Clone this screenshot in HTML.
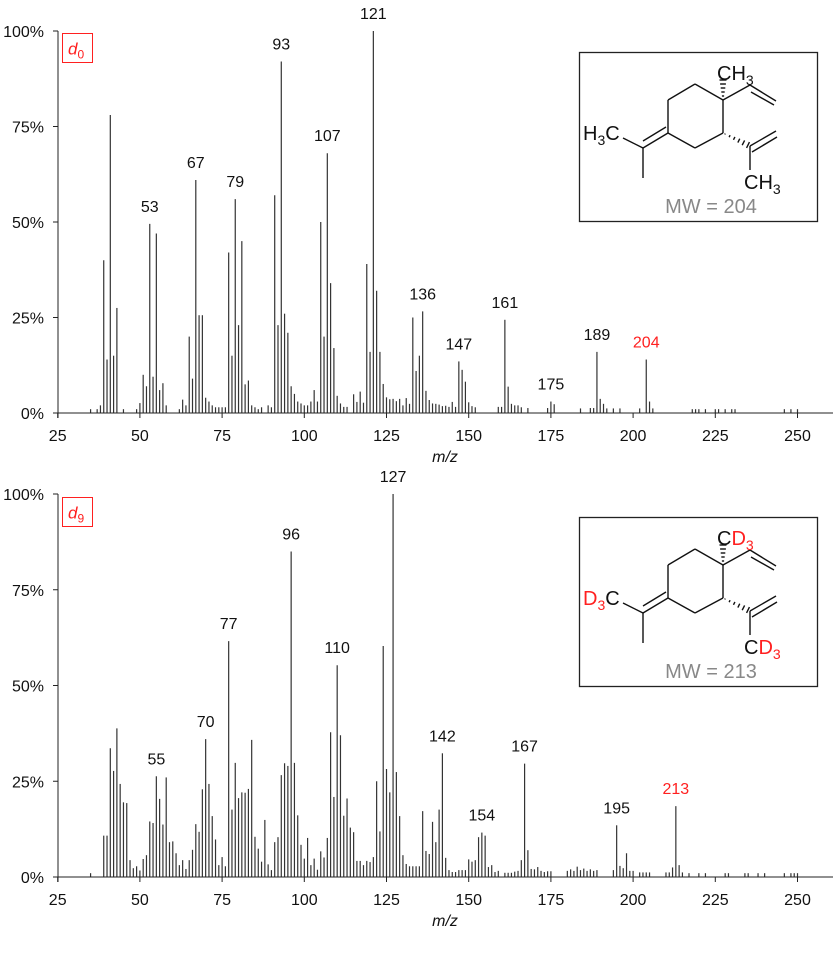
<!DOCTYPE html>
<html><head><meta charset="utf-8"><style>
html,body{margin:0;padding:0;background:#fff;}
svg{display:block;font-family:"Liberation Sans",Arial,sans-serif;}
</style></head><body>
<svg id="chart" width="834" height="956" viewBox="0 0 834 956" xmlns="http://www.w3.org/2000/svg">
</svg>
<script>
const topMz = [35,37,38,39,40,41,42,43,45,49,50,51,52,53,54,55,56,57,58,62,63,64,65,66,67,68,69,70,71,72,73,74,75,76,77,78,79,80,81,82,83,84,85,86,87,89,90,91,92,93,94,95,96,97,98,99,100,101,102,103,104,105,106,107,108,109,110,111,112,113,115,116,117,118,119,120,121,122,123,124,125,126,127,128,129,130,131,132,133,134,135,136,137,138,139,140,141,142,143,144,145,146,147,148,149,150,151,152,159,160,161,162,163,164,165,166,168,174,175,176,184,187,188,189,190,191,192,194,196,202,204,205,206,218,219,220,222,225,226,228,230,231,246,248,250];
const topInt = [1,1,2,40,14,78,15,27.5,1,1,2.6,10,7,49.5,9.5,47,6,7.8,2,1,3.5,2,20,9,61,25.6,25.6,4,3,2,1.5,1.5,1.5,1.5,42,15,56,23,45,7.5,8.5,2,1.5,1,1.5,2,1.5,57,23,92,26,21,7,5,3,2.5,2,2,3,6,3,50,20,68,34,17,4.5,2.5,1.6,1.6,4.9,2.9,5.6,2.7,39,16,100,32,16,7.6,4.1,3.6,3.7,3.1,3.7,2,3.9,2.4,25,11,15,26.6,5.8,3.4,2.5,2.4,2.2,1.8,1.9,1.6,2.9,1.6,13.5,11.3,8.2,2.8,1.8,1.5,1.6,1.6,24.4,6.9,2.4,2,2,1.5,1.3,1.3,3,2.3,1.2,1.3,1.3,16,3.7,2.4,1.2,1.2,1.2,1.2,14,3,1.2,1,1,1,1,1,1,1,1,1,1,1,1];
const topLabels = [53,67,79,93,107,121,136,147,161,175,189,204];

const botMz = [35,39,40,41,42,43,44,45,46,47,48,49,50,51,52,53,54,55,56,57,58,59,60,61,62,63,64,65,66,67,68,69,70,71,72,73,74,75,76,77,78,79,80,81,82,83,84,85,86,87,88,89,90,91,92,93,94,95,96,97,98,99,100,101,102,103,104,105,106,107,108,109,110,111,112,113,114,115,116,117,118,119,120,121,122,123,124,125,126,127,128,129,130,131,132,133,134,135,136,137,138,139,140,141,142,143,144,145,146,147,148,149,150,151,152,153,154,155,156,157,158,159,161,162,163,164,165,166,167,168,169,170,171,172,173,174,175,180,181,182,183,184,185,186,187,188,189,194,195,196,197,198,199,200,202,203,204,205,210,211,212,213,214,215,217,220,222,228,229,234,235,238,240,246,248,249,250];
const botInt = [1,10.8,10.8,33.6,27.7,38.8,24.3,19.5,19.3,4.4,2.3,2.8,1.7,4.7,5.7,14.5,14.1,26.3,20.4,13.7,26,9.1,9.3,6.2,3.1,4.4,2.1,4.4,7.1,13.8,11.8,22.9,36,24.3,15.9,9.8,3.1,5.2,2.8,61.6,17.6,29.8,20.6,22.1,22,23,35.8,10.5,7.4,4,14.9,3.3,1.8,9.1,10.4,26.6,29.7,29,85,29.8,16.1,8.4,4.8,10.2,3.1,4.8,1.9,6.7,5.1,10.2,37.8,20.9,55.3,37,16,20.5,12.9,11.7,4.2,4.2,3.1,4.2,3.9,5.2,25,11.9,60.3,28.2,22.1,100,27.4,15.9,5.7,3.4,2.8,2.8,2.8,2.8,17.2,6.8,6,14.4,9.1,17.6,32.3,5,1.8,1.3,1.3,1.8,1.8,1.8,4.6,4,4.4,10.4,11.6,10.8,2.6,3.1,1.3,1.6,1.1,1.1,1.1,1.4,1.6,4.4,29.6,7,2.1,2,2.6,1.6,1.3,1.5,1.5,1.6,2,1.6,2.7,1.8,2.2,1.6,2,1.6,1.8,1.8,13.5,2.9,2.3,6.2,1.6,1.6,1.2,1.2,1.2,1.2,1.2,1.2,2.5,18.5,3.1,1.2,1,1,1,1,1,1,1,1,1,1,1,1,1];
const botLabels = [55,70,77,96,110,127,142,154,167,195,213];

const xTicks = [25,50,75,100,125,150,175,200,225,250];
const yTicks = [0,25,50,75,100];

const NS = "http://www.w3.org/2000/svg";
const svg = document.getElementById('chart');
function mk(tag, attrs, parent){const e=document.createElementNS(NS,tag);for(const k in attrs)e.setAttribute(k,attrs[k]);(parent||svg).appendChild(e);return e;}
function xS(m){return 57.7+(m-25)*3.288;}

function panel(y0, y100, mzs, ints, labels, redMz, nm){
  const g = mk('g',{});
  
  
  const yS = v => y0 - (y0-y100) * v/100;
  const n = Math.min(mzs.length, ints.length);
  for(let i=0;i<n;i++){
    const b = mk('line',{x1:xS(mzs[i]),x2:xS(mzs[i]),y1:y0,y2:yS(ints[i]),stroke:'#333','stroke-width':1.2},g);
    
    
  }
  const ax = mk('line',{x1:58,x2:833,y1:y0,y2:y0,stroke:'#222','stroke-width':1},g);
  
  
  const ay = mk('line',{x1:58,x2:58,y1:y0+5,y2:y100,stroke:'#222','stroke-width':1},g);
  
  
  for(const t of xTicks){
    mk('line',{x1:xS(t),x2:xS(t),y1:y0,y2:y0+5,stroke:'#222'},g);
    const tx = mk('text',{x:xS(t),y:y0+28,'text-anchor':'middle','font-size':16,fill:'#111'},g);
    tx.textContent = t;
    
    
  }
  for(const t of yTicks){
    const yy = yS(t);
    mk('line',{x1:53,x2:58,y1:yy,y2:yy,stroke:'#222'},g);
    const tx = mk('text',{x:44,y:yy+6,'text-anchor':'end','font-size':16,fill:'#111'},g);
    tx.textContent = t+'%';
    
    
  }
  for(const L of labels){
    const idx = mzs.indexOf(L);
    const v = idx>=0 ? ints[idx] : 0;
    const tx = mk('text',{x:xS(L),y:Math.max(yS(v)-12, y100-17),'text-anchor':'middle','font-size':16,fill:L===redMz?'#ff2020':'#111'},g);
    tx.textContent = L;
    
    
  }
  const at = mk('text',{x:445,y:y0+49,'text-anchor':'middle','font-size':16,'font-style':'italic',fill:'#111'},g);
  at.textContent = 'm/z';
  
  
}
panel(413, 31, topMz, topInt, topLabels, 204, 'd0');
panel(877, 494, botMz, botInt, botLabels, 213, 'd9');

function tagBox(y, sub, nm){
  const g = mk('g',{});
  
  
  mk('rect',{x:62.5,y:y,width:30,height:29,fill:'#fff',stroke:'#ff2020','stroke-width':1},g);
  const t = mk('text',{x:68,y:y+21,'font-size':17,fill:'#ff2020'},g);
  const a = mk('tspan',{'font-style':'italic'},t); a.textContent='d';
  const b = mk('tspan',{'font-size':12,dy:4},t); b.textContent=sub;
}
tagBox(33.5,'0','d0-tag');
tagBox(497.5,'9','d9-tag');

function molecule(dy, deut, mw, nm){
  const g = mk('g',{transform:'translate(0,'+dy+')'});
  
  
  mk('rect',{x:579.5,y:52.5,width:238,height:169,fill:'#fff',stroke:'#222','stroke-width':1.3},g);
  const L=(x1,y1,x2,y2)=>mk('line',{x1,y1,x2,y2,stroke:'#111','stroke-width':1.4},g);
  L(695,84,723,100);L(723,100,723,133);L(723,133,695,148);L(695,148,668,133);L(668,133,668,100);L(668,100,695,84);
  L(723,100,750,85);L(750,85,776,101);L(751,92,774,105);
  L(668,133,643,148);L(666,127,643,141);L(643,148,623,138);L(643,148,643,178);
  L(750,146,776,131);L(752,152,777,137);L(750,146,750,170);
  for(let i=0;i<6;i++){const yy=100-i*4;const w=0.5+i*0.6;L(723-w,yy,723+w,yy);}
  for(let i=0;i<6;i++){const f=i/5;const x=725+f*23,y=134+f*11;const w=0.6+i*0.6;L(x-w*0.4,y+w*0.8,x+w*0.4,y-w*0.8);}
  const red='#ff2020', blk='#111';
  function lab(x,y,parts,anchor){
    const t=mk('text',{x,y,'font-size':20,fill:blk,'text-anchor':anchor||'start'},g);
    for(const p of parts){const s=mk('tspan',p.sub?{'font-size':14,dy:5,fill:p.c||blk}:{dy:p.up?-5:0,fill:p.c||blk},t);s.textContent=p.t;}
    return t;
  }
  if(!deut){
    lab(717,80,[{t:'CH'},{t:'3',sub:1}]);
    lab(583,140,[{t:'H'},{t:'3',sub:1},{t:'C',up:1}]);
    lab(744,189,[{t:'CH'},{t:'3',sub:1}]);
  } else {
    lab(717,80,[{t:'C'},{t:'D',c:red},{t:'3',sub:1,c:red}]);
    lab(583,140,[{t:'D',c:red},{t:'3',sub:1,c:red},{t:'C',up:1}]);
    lab(744,189,[{t:'C'},{t:'D',c:red},{t:'3',sub:1,c:red}]);
  }
  const m=mk('text',{x:711,y:213,'font-size':20,fill:'#888','text-anchor':'middle'},g);
  m.textContent='MW = '+mw;
}
molecule(0,false,204,'structure-d0');
molecule(465,true,213,'structure-d9');
</script>
</body></html>
